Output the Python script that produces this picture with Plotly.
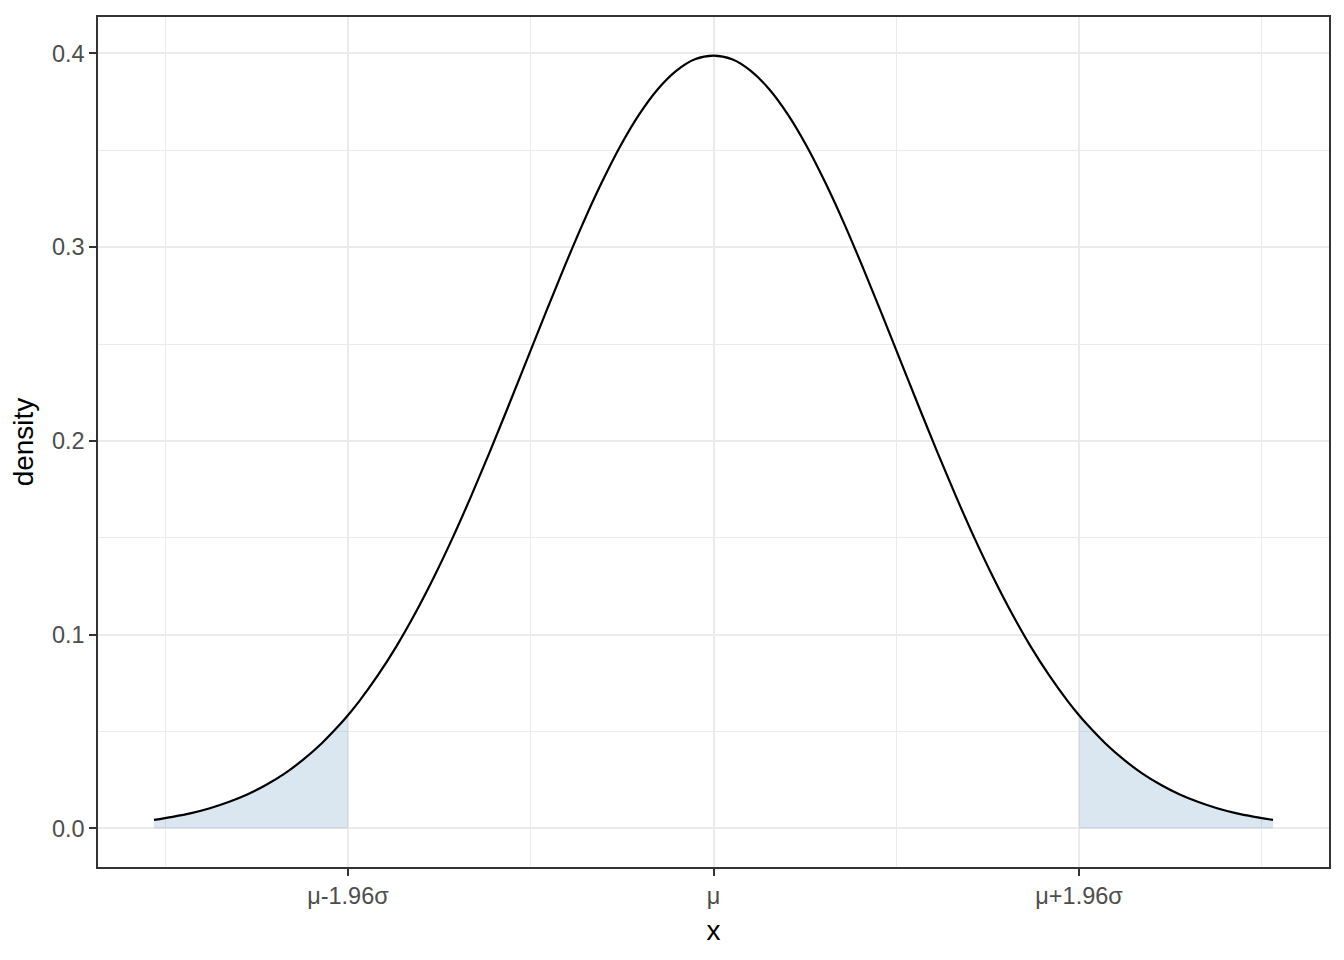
import plotly.graph_objects as pgo

# standard normal density
x_vals = [-3.0, -2.9, -2.8, -2.7, -2.6, -2.5, -2.4, -2.3, -2.2, -2.1, -2.0, -1.96, -1.9, -1.8, -1.7, -1.6,
          -1.5, -1.4, -1.3, -1.2, -1.1, -1.0, -0.9, -0.8, -0.7, -0.6, -0.5, -0.4, -0.3, -0.2, -0.1,
          0.0, 0.1, 0.2, 0.3, 0.4, 0.5, 0.6, 0.7, 0.8, 0.9, 1.0, 1.1, 1.2, 1.3, 1.4, 1.5,
          1.6, 1.7, 1.8, 1.9, 1.96, 2.0, 2.1, 2.2, 2.3, 2.4, 2.5, 2.6, 2.7, 2.8, 2.9, 3.0]
density = [0.0044, 0.0060, 0.0079, 0.0104, 0.0136, 0.0175, 0.0224, 0.0283, 0.0355, 0.0440, 0.0540, 0.0584,
           0.0656, 0.0790, 0.0940, 0.1109, 0.1295, 0.1497, 0.1714, 0.1942, 0.2179, 0.2420, 0.2661, 0.2897,
           0.3123, 0.3332, 0.3521, 0.3683, 0.3814, 0.3910, 0.3970,
           0.3989, 0.3970, 0.3910, 0.3814, 0.3683, 0.3521, 0.3332, 0.3123, 0.2897, 0.2661, 0.2420, 0.2179,
           0.1942, 0.1714, 0.1497, 0.1295, 0.1109, 0.0940, 0.0790, 0.0656, 0.0584, 0.0540, 0.0440, 0.0355,
           0.0283, 0.0224, 0.0175, 0.0136, 0.0104, 0.0079, 0.0060, 0.0044]
crit = 1.96
tick_vals = [-1.96, 0, 1.96]
tick_text = ['μ-1.96σ', 'μ', 'μ+1.96σ']
y_ticks = [0.0, 0.1, 0.2, 0.3, 0.4]
y_text = ['0.0', '0.1', '0.2', '0.3', '0.4']

fill_col = 'rgba(70,130,180,0.2)'

left_x = [a for a in x_vals if a <= -crit]
left_y = [d for a, d in zip(x_vals, density) if a <= -crit]
right_x = [a for a in x_vals if a >= crit]
right_y = [d for a, d in zip(x_vals, density) if a >= crit]

fig = pgo.Figure()
fig.add_trace(pgo.Scatter(x=left_x, y=left_y, mode='lines', line=dict(width=0),
                          fill='tozeroy', fillcolor=fill_col, hoverinfo='skip'))
fig.add_trace(pgo.Scatter(x=right_x, y=right_y, mode='lines', line=dict(width=0),
                          fill='tozeroy', fillcolor=fill_col, hoverinfo='skip'))
fig.add_trace(pgo.Scatter(x=x_vals, y=density, mode='lines',
                          line=dict(color='black', width=2.2, shape='spline')))

# page body has an 8px margin, so the figure is shrunk by that much
fig.update_layout(
    width=1336, height=952,
    margin=dict(l=90, r=15, t=7, b=93),
    plot_bgcolor='white', paper_bgcolor='white',
    showlegend=False,
    font=dict(family='Liberation Sans, Arial, sans-serif'),
)
fig.update_xaxes(
    range=[-3.3, 3.3], tickmode='array', tickvals=tick_vals, ticktext=tick_text,
    showgrid=True, gridcolor='#EBEBEB', gridwidth=2, zeroline=False,
    minor=dict(tickmode='array', tickvals=[-2.94, -0.98, 0.98, 2.94], showgrid=True,
               gridcolor='#EBEBEB', gridwidth=1, ticks=''),
    ticks='outside', ticklen=7, tickwidth=2, tickcolor='#333333',
    tickfont=dict(size=23.5, color='#4D4D4D'),
    showline=True, linecolor='#333333', linewidth=1.5, mirror=True,
    title=dict(text='x', font=dict(size=28, color='black'), standoff=12),
)
fig.update_yaxes(
    range=[-0.0199, 0.4188], tickmode='array', tickvals=y_ticks, ticktext=y_text,
    showgrid=True, gridcolor='#EBEBEB', gridwidth=2, zeroline=False,
    minor=dict(tickmode='array', tickvals=[0.05, 0.15, 0.25, 0.35], showgrid=True,
               gridcolor='#EBEBEB', gridwidth=1, ticks=''),
    ticks='outside', ticklen=7, tickwidth=2, tickcolor='#333333',
    tickfont=dict(size=23.5, color='#4D4D4D'),
    showline=True, linecolor='#333333', linewidth=1.5, mirror=True,
    title=dict(text='density', font=dict(size=28, color='black'), standoff=12),
)

fig.write_html("out.html")
